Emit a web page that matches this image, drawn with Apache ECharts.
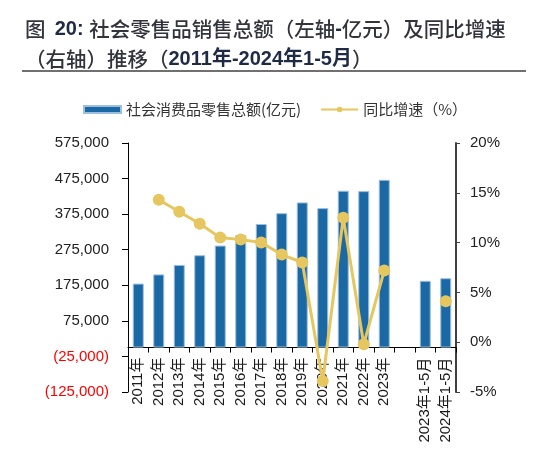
<!DOCTYPE html>
<html>
<head>
<meta charset="utf-8">
<script src="https://cdn.jsdelivr.net/npm/echarts@6/dist/echarts.min.js"></script>
<style>
html,body{margin:0;padding:0;background:#fff;}
#c{width:537px;height:467px;}
</style>
</head>
<body>
<div id="c"></div>
<script>
var categories = ['2011年','2012年','2013年','2014年','2015年','2016年','2017年','2018年','2019年','2020年','2021年','2022年','2023年','','2023年1-5月','2024年1-5月'];
var salesValues = [179804, 205517, 232253, 259487, 286588, 315806, 347327, 377783, 408017, 391981, 440823, 439733, 471495, null, 187637, 194886];
var growthValues = [null, 14.3, 13.1, 11.9, 10.5, 10.3, 10.0, 8.8, 8.0, -3.9, 12.5, -0.2, 7.2, null, null, 4.1];
var leftTicks = [-125000, -25000, 75000, 175000, 275000, 375000, 475000, 575000];
var leftMin = -125000, leftMax = 575000;

var gridTop = 143, gridBottom = 75, chartH = 467;
var plotH = chartH - gridTop - gridBottom;
var zeroOffset = -plotH * (0 - leftMin) / (leftMax - leftMin);

var chart = echarts.init(document.getElementById('c'), null, {renderer:'canvas'});
function fmtNum(v){
  var s = Math.abs(v).toString().replace(/\B(?=(\d{3})+(?!\d))/g, ',');
  return v < 0 ? '(' + s + ')' : s;
}
var option = {
  animation: false,
  backgroundColor: '#fff',
  title: {
    left: 20, top: 9,
    text: '{n|图  }{b|20: }{n|社会零售品销售总额（左轴}{b|-}{n|亿元）及同比增速}\n{n|（右轴）推移（}{b|2011年-2024年1-5月}{n|）}',
    textStyle: {
      fontWeight: 'normal',
      rich: {
        n: {fontSize: 20.5, color: '#33333d', fontWeight: 500, fontFamily: 'Noto Sans CJK SC', lineHeight: 30},
        b: {fontSize: 20, color: '#1f2a44', fontWeight: 'bold', fontFamily: 'Liberation Sans, Noto Sans CJK SC', lineHeight: 30}
      }
    }
  },
  graphic: [{
    type: 'line', shape: {x1: 22, y1: 71, x2: 526, y2: 71},
    style: {stroke: '#404040', lineWidth: 1.5}
  }],
  legend: {
    left: 78, top: 97,
    itemWidth: 37, itemHeight: 7, itemGap: 19,
    textStyle: {fontSize: 15, color: '#333', fontFamily: 'Noto Sans CJK SC'},
    data: [
      {name: '社会消费品零售总额(亿元)', icon: 'rect'},
      {name: '同比增速（%）'}
    ]
  },
  grid: {left: 128, right: 81, top: gridTop, bottom: gridBottom, containLabel: false, outerBoundsMode: 'none'},
  xAxis: {
    type: 'category',
    data: categories,
    boundaryGap: true,
    position: 'bottom',
    offset: zeroOffset,
    axisLine: {onZero: false, lineStyle: {color: '#000', width: 1}},
    axisTick: {show: true, length: 5, alignWithLabel: false, interval: 0, lineStyle: {color: '#000'}},
    axisLabel: {rotate: 90, interval: 0, margin: 10, fontSize: 15, color: '#1a1a1a', fontFamily: 'Liberation Sans, Noto Sans CJK SC'},
    splitLine: {show: false}
  },
  yAxis: [{
    type: 'value',
    min: leftMin, max: leftMax,
    position: 'left',
    axisLine: {show: true, onZero: false, lineStyle: {color: '#000', width: 1}},
    axisTick: {show: true, length: 6, customValues: leftTicks, lineStyle: {color: '#000'}},
    axisLabel: {
      customValues: leftTicks,
      margin: 19, fontSize: 15, fontFamily: 'Liberation Sans',
      formatter: function(v){ return fmtNum(v); },
      color: function(v){ return Number(v) < 0 ? '#ff0000' : '#222'; }
    },
    splitLine: {show: false}
  }, {
    type: 'value',
    min: -5, max: 20, interval: 5,
    position: 'right',
    axisLine: {show: true, onZero: false, lineStyle: {color: '#404040', width: 2}},
    axisTick: {show: true, length: 4, lineStyle: {color: '#404040'}},
    axisLabel: {margin: 14, fontSize: 15, fontFamily: 'Liberation Sans', color: '#222', formatter: '{value}%'},
    splitLine: {show: false}
  }],
  series: [{
    name: '社会消费品零售总额(亿元)',
    type: 'bar',
    yAxisIndex: 0,
    data: salesValues,
    barWidth: 11,
    itemStyle: {color: '#1b69a4', borderColor: '#9dbfdd', borderWidth: 1}
  }, {
    name: '同比增速（%）',
    type: 'line',
    yAxisIndex: 1,
    data: growthValues,
    connectNulls: false,
    symbol: 'circle',
    symbolSize: 12,
    lineStyle: {color: '#e6c65f', width: 3},
    itemStyle: {color: '#e6c65f'},
    z: 5
  }]
};
chart.setOption(option);
</script>
</body>
</html>
